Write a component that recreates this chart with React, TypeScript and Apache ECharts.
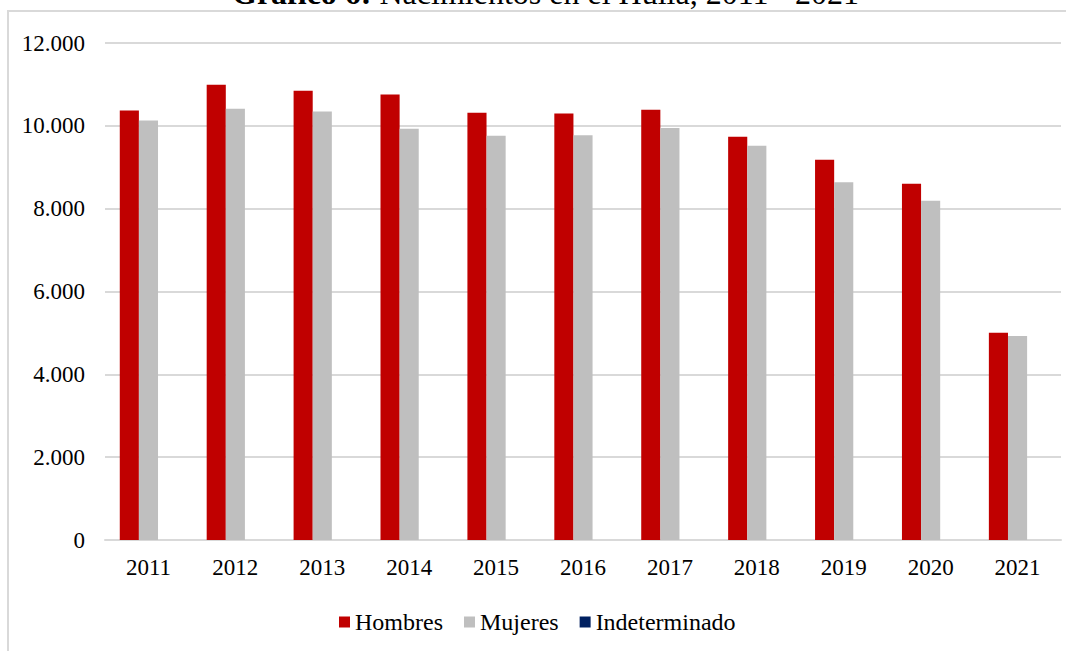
import React, { useEffect, useRef } from "react";
import * as echarts from "echarts";

const years = ["2011", "2012", "2013", "2014", "2015", "2016", "2017", "2018", "2019", "2020", "2021"];
const hombres = [10370, 10990, 10845, 10755, 10315, 10300, 10390, 9735, 9180, 8600, 5005];
const mujeres = [10130, 10410, 10345, 9930, 9760, 9775, 9950, 9520, 8640, 8190, 4925];
const indeterminado = [0, 0, 0, 0, 0, 0, 0, 0, 0, 0, 0];
const seriesNames = ["Hombres", "Mujeres", "Indeterminado"];
const titleBold = "Gráfico 6:";
const titleRest = " Nacimientos en el Huila, 2011 - 2021";

const FONT = "'Liberation Serif', 'Times New Roman', serif";

export default function App() {
  const ref = useRef<HTMLDivElement>(null);
  useEffect(() => {
    if (!ref.current) return;
    const chart = echarts.init(ref.current, null, { renderer: "svg" });
    chart.setOption({
      animation: false,
      backgroundColor: "#ffffff",
      title: {
        text: `{b|${titleBold}}${titleRest}`,
        left: 227,
        top: -28,
        textStyle: {
          fontFamily: FONT,
          fontSize: 32,
          fontWeight: "normal",
          color: "#000000",
          rich: {
            b: { fontFamily: FONT, fontSize: 32, fontWeight: "bold", color: "#000000" },
          },
        },
      },
      graphic: [
        {
          type: "rect",
          shape: { x: 8, y: 11, width: 1100, height: 700 },
          style: { fill: "none", stroke: "#D9D9D9", lineWidth: 2 },
          silent: true,
          z: -1,
        },
      ],
      legend: {
        data: seriesNames,
        left: 334,
        top: 605,
        itemWidth: 11,
        itemHeight: 11,
        itemGap: 21,
        icon: "rect",
        textStyle: { fontFamily: FONT, fontSize: 24, color: "#000000" },
      },
      grid: { left: 105, right: 5, top: 43, bottom: 111, containLabel: false },
      xAxis: {
        type: "category",
        data: years,
        axisLine: { show: true, lineStyle: { color: "#D9D9D9", width: 2 } },
        axisTick: { show: false },
        axisLabel: { fontFamily: FONT, fontSize: 23, color: "#000000", margin: 16 },
      },
      yAxis: {
        type: "value",
        min: 0,
        max: 12000,
        interval: 2000,
        axisLine: { show: false },
        axisTick: { show: false },
        splitLine: { lineStyle: { color: "#D9D9D9", width: 2 } },
        axisLabel: {
          fontFamily: FONT,
          fontSize: 23,
          color: "#000000",
          margin: 20,
          formatter: (v: number) => v.toLocaleString("de-DE"),
        },
      },
      series: [
        {
          name: seriesNames[0],
          type: "bar",
          data: hombres,
          itemStyle: { color: "#C00000" },
          barGap: "0%",
          barCategoryGap: "34%",
        },
        {
          name: seriesNames[1],
          type: "bar",
          data: mujeres,
          itemStyle: { color: "#BFBFBF" },
          barGap: "0%",
          barCategoryGap: "34%",
        },
        {
          name: seriesNames[2],
          type: "bar",
          data: indeterminado,
          itemStyle: { color: "#002060" },
          barGap: "0%",
          barCategoryGap: "34%",
        },
      ],
    });
    return () => chart.dispose();
  }, []);
  return (
    <div
      ref={ref}
      style={{ position: "fixed", left: 0, top: 0, width: 1066, height: 651 }}
    />
  );
}
